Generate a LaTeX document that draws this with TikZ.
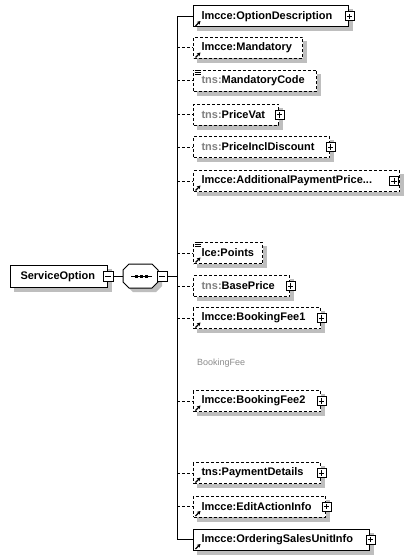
\documentclass[tikz,border=0pt]{standalone}
\usepackage{fontspec}
\setmainfont{Liberation Sans}
\usetikzlibrary{arrows.meta,backgrounds}
\definecolor{shadowgray}{RGB}{190,190,190}
\definecolor{nsgray}{RGB}{128,128,128}
\definecolor{notegray}{RGB}{140,140,140}
\newcommand\nsg[1]{\textcolor{nsgray}{#1}}
\newcommand\elem[5]{%
  \node[elbox,#4] (#1) at (193,#2) {\makebox[\dimexpr#3pt-16pt\relax][l]{#5}};}
\newcommand\refarrow[1]{%
  \draw[icon,-{Stealth[length=3.5pt,width=4pt]}] ([shift={(2.5pt,1.5pt)}]#1.south west) -- ([shift={(7.5pt,6.5pt)}]#1.south west);}
\newcommand\listicon[1]{%
  \fill[white] ([shift={(0.5pt,1pt)}]#1.north west) rectangle ([shift={(8pt,-5.5pt)}]#1.north west);
  \draw[line width=0.8pt] ([shift={(1.5pt,-0.5pt)}]#1.north west) -- ++(6pt,0pt)
              ([shift={(1.5pt,-2.5pt)}]#1.north west) -- ++(6pt,0pt)
              ([shift={(1.5pt,-4.5pt)}]#1.north west) -- ++(6pt,0pt);}
\newcommand\dropshadow[1]{%
  \fill[shadowgray] ([shift={(4pt,-4pt)}]#1.north west) rectangle ([shift={(4pt,-4pt)}]#1.south east);}
\begin{document}
\begin{tikzpicture}[x=1pt,y=-1pt,
  elbox/.style={draw, fill=white, line width=1pt, anchor=west, minimum height=21pt,
    inner xsep=8pt, inner ysep=0pt, font=\fontsize{11}{13}\selectfont\bfseries},
  opt/.style={dash pattern=on 3pt off 2pt},
  link/.style={line width=1pt},
  icon/.style={line width=1.1pt},
  pmbox/.style={draw, fill=white, line width=1pt, minimum size=9pt, inner sep=0pt},
  minusbox/.style={pmbox, minimum size=10pt, path picture={\draw[line width=1pt]
    ([xshift=2pt]path picture bounding box.west) -- ([xshift=-2pt]path picture bounding box.east);}},
  plusbox/.style={pmbox, path picture={\draw[line width=1pt]
    ([xshift=1.8pt]path picture bounding box.west) -- ([xshift=-1.8pt]path picture bounding box.east)
    ([yshift=-1.8pt]path picture bounding box.north) -- ([yshift=1.8pt]path picture bounding box.south);}},
  note/.style={anchor=west, font=\fontsize{9}{11}\selectfont, text=notegray, inner sep=0pt}
]
\useasboundingbox (0,0) rectangle (408,559);

% root element
\node[elbox, minimum width=97pt, minimum height=22pt, inner xsep=10pt] (so) at (10,276.5)
  {\makebox[77pt][l]{ServiceOption}};
\node[minusbox] (som) at (so.east) {};

% sequence compositor
\fill[shadowgray] (133,268) -- (156,268) -- (162,274) -- (162,286) -- (156,292) -- (133,292) -- (127,286) -- (127,274) -- cycle;
\draw[line width=1pt, fill=white] (129,264) -- (152,264) -- (158,270) -- (158,282) -- (152,288) -- (129,288) -- (123,282) -- (123,270) -- cycle;
\node[minimum width=35pt, minimum height=24pt, inner sep=0pt] (seq) at (140.5,276.5) {};
\draw[line width=1pt] (131,276.5) -- (152,276.5);
\fill (134.5,275) rectangle (137.5,278);
\fill (139.5,275) rectangle (142.5,278);
\fill (144.5,275) rectangle (147.5,278);
\node[minusbox] (sqm) at (162,276.5) {};
\draw[link] (som.east) -- (seq.west);

% children
\elem{e1}{16.5}{155}{}{lmcce:OptionDescription}
\elem{e2}{48}{109}{opt}{lmcce:Mandatory}
\elem{e3}{81}{123}{opt}{\nsg{tns:}MandatoryCode}
\elem{e4}{115}{85}{opt}{\nsg{tns:}PriceVat}
\elem{e5}{147}{136}{opt}{\nsg{tns:}PriceInclDiscount}
\elem{e6}{181}{206}{opt}{lmcce:AdditionalPaymentPrice...}
\elem{e7}{253}{69}{opt}{lce:Points}
\elem{e8}{286}{96}{opt}{\nsg{tns:}BasePrice}
\elem{e9}{318}{127}{opt}{lmcce:BookingFee1}
\elem{e10}{401}{127}{opt}{lmcce:BookingFee2}
\elem{e11}{473}{127}{opt}{tns:PaymentDetails}
\elem{e12}{506.5}{132}{opt}{lmcce:EditActionInfo}
\elem{e13}{539.5}{176}{}{lmcce:OrderingSalesUnitInfo}

\node[note] (bf) at (197,363) {BookingFee};

% plus boxes
\foreach \e in {e1,e4,e5,e8,e9,e10,e11,e12,e13}
  {\node[plusbox] (\e p) at ([xshift=0.5pt]\e.east) {};}
\node[plusbox] (e6p) at ([xshift=-6pt]e6.east) {};

% icons
\foreach \e in {e1,e2,e6,e7,e9,e10,e11,e12,e13} {\refarrow{\e}}
\listicon{e3}
\listicon{e7}

% connectors
\coordinate (vtop) at (177,16.5);
\coordinate (vbot) at (177,539.5);
\draw[link] (vtop) -- (vbot);
\draw[link] (sqm.east) -- (sqm.east -| vtop);
\draw[link] (vtop) -- (e1.west);
\draw[link] (vbot) -- (e13.west);
\foreach \e in {e2,e3,e4,e5,e6,e7,e8,e9,e10,e11,e12}
  {\draw[link,opt] (\e.west -| vtop) -- (\e.west);}

% background and shadows
\begin{scope}[on background layer]
  \fill[white] (0,0) rectangle (408,559);
  \dropshadow{so}
  \foreach \e in {e1,e2,e3,e4,e5,e6,e7,e8,e9,e10,e11,e12,e13} {\dropshadow{\e}}
\end{scope}
\end{tikzpicture}
\end{document}
